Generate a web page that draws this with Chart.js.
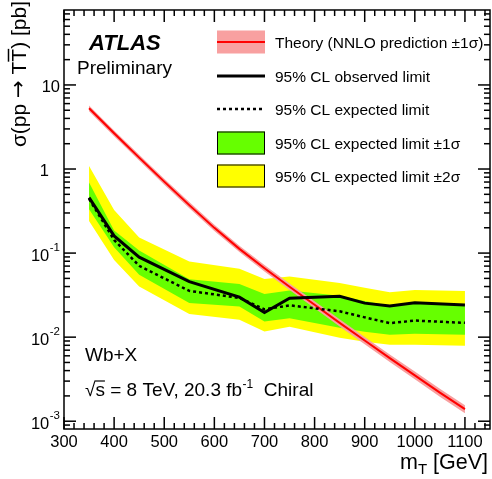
<!DOCTYPE html>
<html><head><meta charset="utf-8">
<script src="https://cdn.jsdelivr.net/npm/chart.js@4"></script>
<style>html,body{margin:0;padding:0;background:#fff;}canvas{display:block;}</style>
</head><body>
<canvas id="c" width="492" height="479"></canvas>
<script>
// ---------- data ----------
const massPoints   = [350, 400, 450, 550, 650, 700, 750, 850, 900, 950, 1000, 1100];
const observed     = [0.457, 0.160, 0.0894, 0.0458, 0.0299, 0.0196, 0.0291, 0.0307, 0.0254, 0.0234, 0.0256, 0.0242];
const expected     = [0.441, 0.1435, 0.0705, 0.0355, 0.0293, 0.0214, 0.0239, 0.0203, 0.0172, 0.01467, 0.01575, 0.01479];
const exp1sUp      = [0.689, 0.185, 0.1071, 0.0489, 0.0430, 0.0327, 0.0360, 0.0310, 0.0270, 0.0236, 0.0249, 0.0236];
const exp1sDown    = [0.333, 0.1176, 0.0551, 0.0254, 0.0232, 0.01533, 0.01682, 0.0129, 0.01156, 0.01065, 0.01094, 0.01065];
const exp2sUp      = [1.089, 0.3264, 0.1529, 0.0792, 0.0649, 0.0493, 0.0528, 0.0442, 0.0386, 0.0341, 0.0365, 0.0355];
const exp2sDown    = [0.2415, 0.0830, 0.0400, 0.0189, 0.01606, 0.01166, 0.01326, 0.00981, 0.00879, 0.0081, 0.0081, 0.00788];

const theoryMass   = [350, 400, 450, 500, 550, 600, 650, 700, 750, 800, 850, 900, 950, 1000, 1050, 1100];
const theory       = [5.28, 2.66, 1.365, 0.708, 0.372, 0.1995, 0.1122, 0.0661, 0.0398, 0.0243, 0.0148, 0.00912, 0.00562, 0.00351, 0.00219, 0.00139];
const theoryUp     = [5.70, 2.88, 1.48, 0.768, 0.404, 0.217, 0.122, 0.0722, 0.0436, 0.0267, 0.0163, 0.01007, 0.00623, 0.00390, 0.00244, 0.00155];
const theoryDown   = [4.88, 2.46, 1.26, 0.652, 0.342, 0.183, 0.103, 0.0605, 0.0363, 0.0221, 0.0134, 0.00825, 0.00507, 0.00316, 0.00196, 0.00124];

const xTickLabels  = [300, 400, 500, 600, 700, 800, 900, 1000, 1100];
const yTickLabels  = [0.001, 0.01, 0.1, 1, 10];
const legendLabels = ['Theory (NNLO prediction \u00b11\u03c3)', '95% CL observed limit', '95% CL expected limit',
                      '95% CL expected limit \u00b11\u03c3', '95% CL expected limit \u00b12\u03c3'];

// ---------- helpers ----------
const FONT = '"Liberation Sans", Arial, Helvetica, sans-serif';
const pts = (xs, ys) => xs.map((x, i) => ({x, y: ys[i]}));
const GREEN = '#66ff00', YELLOW = '#ffff00', PINK = '#f8a0a0', RED = '#ff0000';

const decor = {
  id: 'decor',
  afterDraw(chart) {
    const ctx = chart.ctx, a = chart.chartArea, xs = chart.scales.x, ys = chart.scales.y;
    ctx.save();
    ctx.strokeStyle = '#000'; ctx.fillStyle = '#000'; ctx.lineWidth = 1.5;
    const line = (x1, y1, x2, y2) => { ctx.beginPath(); ctx.moveTo(x1, y1); ctx.lineTo(x2, y2); ctx.stroke(); };
    // frame
    ctx.strokeRect(a.left, a.top, a.right - a.left, a.bottom - a.top);
    // x ticks
    for (let v = 300; v <= xs.max; v += 20) {
      const px = xs.getPixelForValue(v);
      const L = (v % 100 === 0) ? 12 : 6;
      line(px, a.bottom, px, a.bottom - L);
      line(px, a.top, px, a.top + L);
    }
    // y ticks
    for (let e = -4; e <= 2; e++) {
      for (let m = 1; m <= 9; m++) {
        const v = m * Math.pow(10, e);
        if (v < ys.min || v > ys.max) continue;
        const py = ys.getPixelForValue(v);
        const L = (m === 1) ? 12 : 6;
        line(a.left, py, a.left + L, py);
        line(a.right, py, a.right - L, py);
      }
    }
    // x tick labels
    ctx.font = '16.5px ' + FONT; ctx.textAlign = 'center'; ctx.textBaseline = 'alphabetic';
    xTickLabels.forEach(v => ctx.fillText(String(v), xs.getPixelForValue(v), 447));
    // y tick labels
    yTickLabels.forEach(v => {
      const py = ys.getPixelForValue(v);
      const e = Math.round(Math.log10(v));
      ctx.textAlign = 'right';
      if (e === 0) { ctx.font = '16.5px ' + FONT; ctx.fillText('1', 49, py + 7); }
      else if (e === 1) { ctx.font = '16.5px ' + FONT; ctx.fillText('10', 60, py + 7); }
      else {
        ctx.font = '11.5px ' + FONT;
        const sup = String(e);
        const sw = ctx.measureText(sup).width;
        ctx.fillText(sup, 60, py - 2);
        ctx.font = '16.5px ' + FONT;
        ctx.fillText('10', 60 - sw - 0.5, py + 8);
      }
    });
    // x title
    ctx.textAlign = 'left';
    ctx.font = '21.5px ' + FONT;
    const wm = ctx.measureText('m').width, wg = ctx.measureText(' [GeV]').width;
    ctx.font = '15px ' + FONT;
    const wt = ctx.measureText('T').width;
    let x0 = 488 - (wm + wt + wg);
    ctx.font = '21.5px ' + FONT; ctx.fillText('m', x0, 469);
    ctx.font = '15px ' + FONT; ctx.fillText('T', x0 + wm, 474);
    ctx.font = '21.5px ' + FONT; ctx.fillText(' [GeV]', x0 + wm + wt, 469);
    // y title (rotated), drawn piecewise so the arrow uses a wider glyph
    ctx.save();
    ctx.translate(26, 1); ctx.rotate(-Math.PI / 2);
    ctx.textAlign = 'left';
    const F1 = '21px ' + FONT, F2 = '21px "DejaVu Sans", sans-serif';
    const pieces = [['\u03c3(pp ', F1], ['\u2192', F2], [' T', F1], ['T', F1], [') [pb]', F1]];
    let wTot = 0;
    pieces.forEach(p => { ctx.font = p[1]; p.push(ctx.measureText(p[0]).width); wTot += p[2]; });
    let lx = -wTot;
    pieces.forEach((p, i) => {
      ctx.font = p[1];
      ctx.fillText(p[0], lx, i === 1 ? -1 : 0);
      if (i === 3) { ctx.lineWidth = 1.5; line(lx, -17.5, lx + p[2], -17.5); }
      lx += p[2];
    });
    ctx.restore();
    // ATLAS Preliminary
    ctx.textAlign = 'left';
    ctx.font = 'italic bold 22px ' + FONT; ctx.fillText('ATLAS', 89, 50);
    ctx.font = '19px ' + FONT; ctx.fillText('Preliminary', 77, 74);
    ctx.fillText('Wb+X', 85, 361);
    // sqrt(s) line
    let cx = 85; const by = 396;
    ctx.font = '19px ' + FONT;
    ctx.fillText('\u221a', cx, by); cx += ctx.measureText('\u221a').width;
    const sw2 = ctx.measureText('s').width;
    ctx.fillText('s', cx, by);
    ctx.lineWidth = 1.2; line(cx - 1, by - 15, cx + sw2, by - 15);
    cx += sw2;
    const part = ' = 8 TeV, 20.3 fb';
    ctx.fillText(part, cx, by); cx += ctx.measureText(part).width;
    ctx.font = '12px ' + FONT; ctx.fillText('-1', cx + 0.5, by - 8); cx += ctx.measureText('-1').width + 0.5;
    ctx.font = '19px ' + FONT; ctx.fillText('  Chiral', cx, by);
    // legend
    const bx = 217, bw = 48, bh = 23, tx = 275;
    const rows = [42, 76, 109, 143, 176];
    ctx.fillStyle = PINK; ctx.fillRect(bx, rows[0] - bh / 2, bw, bh);
    ctx.strokeStyle = RED; ctx.lineWidth = 2; line(bx, rows[0], bx + bw, rows[0]);
    ctx.strokeStyle = '#000'; ctx.lineWidth = 3; line(bx, rows[1], bx + bw, rows[1]);
    ctx.lineWidth = 2.5; ctx.setLineDash([3, 3]); line(bx, rows[2], bx + bw, rows[2]); ctx.setLineDash([]);
    ctx.lineWidth = 1;
    ctx.fillStyle = GREEN; ctx.fillRect(bx, rows[3] - bh / 2, bw, bh); ctx.strokeRect(bx + 0.5, rows[3] - bh / 2 + 0.5, bw - 1, bh - 1);
    ctx.fillStyle = YELLOW; ctx.fillRect(bx, rows[4] - bh / 2, bw, bh); ctx.strokeRect(bx + 0.5, rows[4] - bh / 2 + 0.5, bw - 1, bh - 1);
    ctx.fillStyle = '#000'; ctx.font = '15.5px ' + FONT; ctx.textBaseline = 'middle';
    legendLabels.forEach((t, i) => ctx.fillText(t, tx, rows[i] + 1.5));
    ctx.restore();
  }
};

new Chart(document.getElementById('c'), {
  type: 'line',
  data: {
    datasets: [
      {data: pts(massPoints, observed), borderColor: '#000', borderWidth: 3, fill: false},
      {data: pts(massPoints, expected), borderColor: '#000', borderWidth: 2.5, borderDash: [3, 3], fill: false},
      {data: pts(theoryMass, theory), borderColor: RED, borderWidth: 2, fill: false},
      {data: pts(theoryMass, theoryUp), borderWidth: 0, borderColor: 'rgba(0,0,0,0)', backgroundColor: PINK, fill: '+1'},
      {data: pts(theoryMass, theoryDown), borderWidth: 0, borderColor: 'rgba(0,0,0,0)', fill: false},
      {data: pts(massPoints, exp1sUp), borderWidth: 0, borderColor: 'rgba(0,0,0,0)', backgroundColor: GREEN, fill: '+1'},
      {data: pts(massPoints, exp1sDown), borderWidth: 0, borderColor: 'rgba(0,0,0,0)', fill: false},
      {data: pts(massPoints, exp2sUp), borderWidth: 0, borderColor: 'rgba(0,0,0,0)', backgroundColor: YELLOW, fill: '+1'},
      {data: pts(massPoints, exp2sDown), borderWidth: 0, borderColor: 'rgba(0,0,0,0)', fill: false}
    ]
  },
  options: {
    responsive: false, animation: false, devicePixelRatio: 1,
    layout: {padding: {left: 64, right: 2, top: 10, bottom: 50}},
    plugins: {legend: {display: false}, tooltip: {enabled: false}},
    elements: {point: {radius: 0}, line: {tension: 0}},
    scales: {
      x: {type: 'linear', min: 300, max: 1150, display: false},
      y: {type: 'logarithmic', min: 8.08e-4, max: 77.9, display: false}
    }
  },
  plugins: [decor]
});
</script>
</body></html>
